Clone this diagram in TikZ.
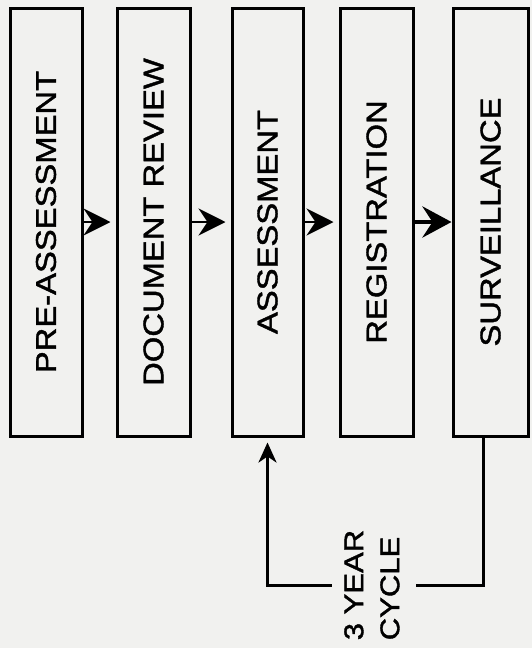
\documentclass[tikz,border=0pt]{standalone}
\usepackage{fontspec}
\setmainfont{Liberation Sans}
\newfontfamily\scanfont[FakeBold=1.4, FakeStretch=1.15]{Liberation Sans}
\usetikzlibrary{arrows.meta}

\definecolor{paper}{RGB}{241,241,239}

\begin{document}
\begin{tikzpicture}[
  x=1pt, y=-1pt,
  font=\scanfont\fontsize{28.5}{30}\selectfont,
  stagebox/.style={
    draw,
    line width=3pt,
    minimum width=72pt,
    minimum height=428pt,
    inner sep=0pt
  },
  flow/.style={-{Stealth[length=27pt,width=27pt,inset=9pt]}, line width=2.8pt, shorten >=5pt},
  bigflow/.style={-{Stealth[length=29pt,width=31pt,inset=10pt]}, line width=4.8pt},
  back/.style={line width=3pt},
  backarrow/.style={-{Stealth[length=20pt,width=18pt,inset=6pt]}, line width=3pt, shorten >=5pt}
]

% Page
\useasboundingbox (0,0) rectangle (532,648);
\fill[paper] (0,0) rectangle (532,648);

% Stages
\node[stagebox] (pre) at (46,222) {\rotatebox{90}{PRE-ASSESSMENT}};
\node[stagebox, minimum width=73pt] (review) at (153.5,222) {\rotatebox{90}{DOCUMENT REVIEW}};
\node[stagebox, minimum width=71pt] (assess) at (267.5,222) {\rotatebox{90}{ASSESSMENT}};
\node[stagebox, minimum width=73pt] (regist) at (376.5,222) {\rotatebox{90}{REGISTRATION}};
\node[stagebox, minimum width=75pt] (surv) at (490.5,222) {\rotatebox{90}{SURVEILLANCE}};

% Flow arrows
\draw[flow] (pre) -- (review);
\draw[flow] (review) -- (assess);
\draw[flow] (assess) -- (regist);
\draw[bigflow] (regist) -- (surv);

% Cycle back
\node[inner sep=6pt, font=\scanfont\fontsize{27}{36}\selectfont] (cycle) at (374,585)
  {\rotatebox{90}{\begin{tabular}{@{}l@{}}3 YEAR\\CYCLE\end{tabular}}};
\draw[back] ([xshift=-7pt]surv.south) |- (cycle.east);
\draw[backarrow] (cycle.west) -| (assess.south);

\end{tikzpicture}
\end{document}
